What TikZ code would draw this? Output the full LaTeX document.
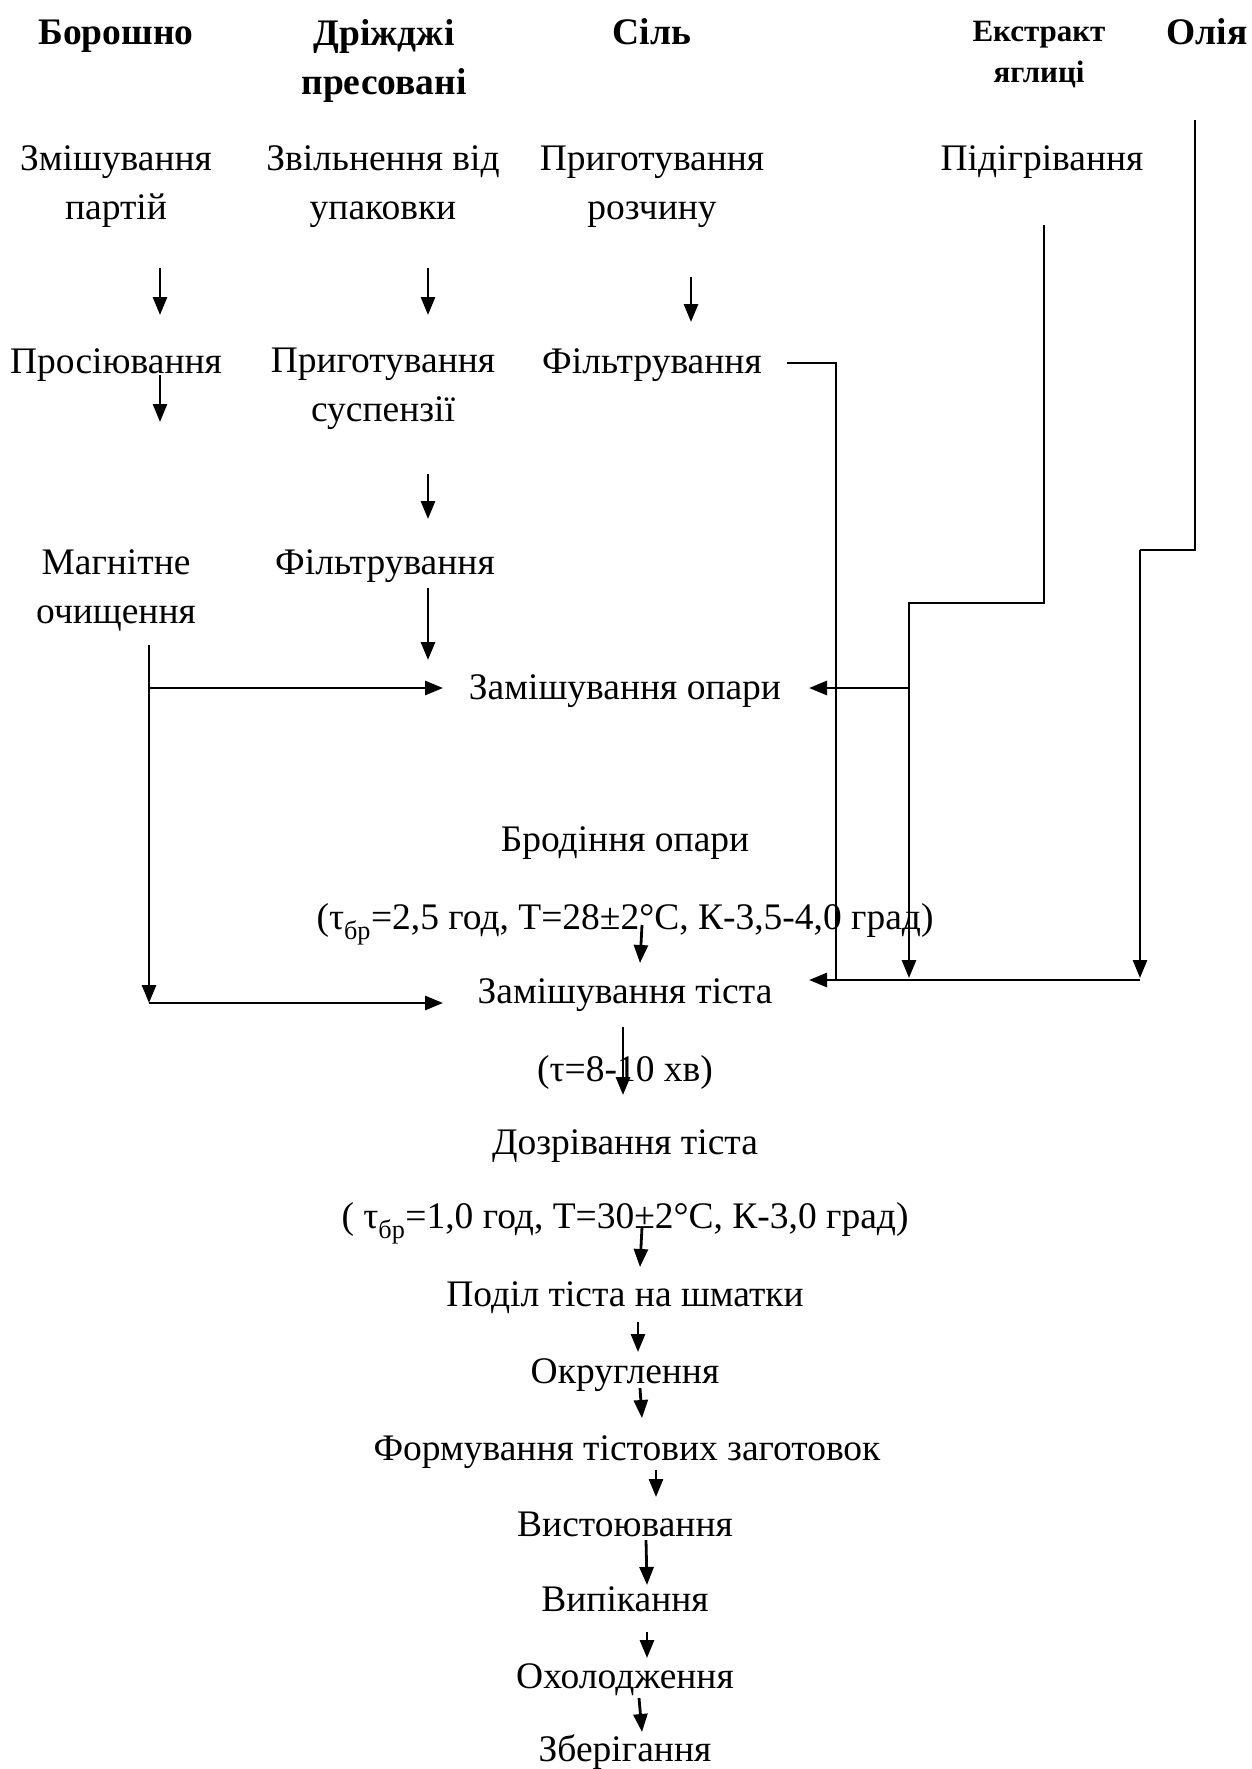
\documentclass[tikz,border=0pt]{standalone}
\usepackage{fontspec}
\setmainfont{Liberation Serif}
\usetikzlibrary{arrows.meta}
\tikzset{
  lbl/.style={anchor=base, inner sep=0pt, align=center, font=\fontsize{37.5}{48.5}\selectfont},
  hdr/.style={lbl, font=\fontsize{37.5}{48.5}\selectfont\bfseries},
  hdrsmall/.style={lbl, font=\fontsize{31}{40}\selectfont\bfseries},
  ln/.style={line width=2.8pt},
  thinln/.style={line width=2pt},
  arr/.style={ln, -{Triangle[length=18pt,width=14pt]}},
}
\newcommand{\tbr}{τ\textsubscript{бр}}
\begin{document}
\begin{tikzpicture}[x=1pt,y=-1pt]
\useasboundingbox (0,0) rectangle (1252,1769);
% headers (base = last line)
\node[hdr] (h1) at (116,45) {Борошно};
\node[hdr] (h2) at (384,94) {Дріжджі\\пресовані};
\node[hdr] (h3) at (652,45) {Сіль};
\node[hdrsmall] (h4) at (1039,82) {Екстракт\\яглиці};
\node[hdr] (h5) at (1207,45) {Олія};
% row 2
\node[lbl] (a1) at (116,219) {Змішування\\партій};
\node[lbl] (b1) at (383,219) {Звільнення від\\упаковки};
\node[lbl] (c1) at (652,219) {Приготування\\розчину};
\node[lbl] (d1) at (1042,170) {Підігрівання};
% row 3
\node[lbl] (a2) at (116,373) {Просіювання};
\node[lbl] (b2) at (383,421) {Приготування\\суспензії};
\node[lbl] (c2) at (652,373) {Фільтрування};
% row 4
\node[lbl] (a3) at (116,623) {Магнітне\\очищення};
\node[lbl] (b3) at (385,574) {Фільтрування};
% main column
\node[lbl] (m1) at (625,699) {Замішування опари};
\node[lbl] (m2) at (625,851) {Бродіння опари};
\node[lbl] (m2p) at (625,929) {(\tbr=2,5 год, T=28±2°C, К-3,5-4,0 град)};
\node[lbl] (m3) at (625,1003) {Замішування тіста};
\node[lbl] (m3p) at (625,1081) {(τ=8-10 хв)};
\node[lbl] (m4) at (625,1154) {Дозрівання тіста};
\node[lbl] (m4p) at (625,1228) {( \tbr=1,0 год, T=30±2°C, К-3,0 град)};
\node[lbl] (m5) at (625,1306) {Поділ тіста на шматки};
\node[lbl] (m6) at (625,1383) {Округлення};
\node[lbl] (m7) at (627,1460) {Формування тістових заготовок};
\node[lbl] (m8) at (625,1536) {Вистоювання};
\node[lbl] (m9) at (625,1611) {Випікання};
\node[lbl] (m10) at (625,1688) {Охолодження};
\node[lbl] (m11) at (625,1761) {Зберігання};
% coordinates
\coordinate (p1s) at (160,268); \coordinate (p1e) at (160,315);
\coordinate (p2s) at (428,268); \coordinate (p2e) at (428,315);
\coordinate (p3s) at (691,277); \coordinate (p3e) at (691,322);
\coordinate (p4s) at (160,375); \coordinate (p4e) at (160,422);
\coordinate (p5s) at (428,474); \coordinate (p5e) at (428,519);
\coordinate (p6s) at (428,588); \coordinate (p6e) at (428,660);
\coordinate (L0) at (149,645); \coordinate (L1) at (149,688); \coordinate (L2) at (149,1003);
\coordinate (L1e) at (443,688); \coordinate (L2e) at (443,1003);
\coordinate (S0) at (787,363); \coordinate (S1) at (836,363); \coordinate (S2) at (836,980);
\coordinate (E0) at (1044,225); \coordinate (E1) at (1044,603); \coordinate (E2) at (909,603);
\coordinate (E3) at (909,688); \coordinate (E4) at (909,978); \coordinate (E5) at (809,688);
\coordinate (O0) at (1195,120); \coordinate (O1) at (1195,550); \coordinate (O2) at (1140,550);
\coordinate (O3) at (1140,978); \coordinate (B0) at (1140,980); \coordinate (B1) at (809,980);
\coordinate (q1s) at (642,925); \coordinate (q1e) at (640,963);
\coordinate (q2s) at (623,1027); \coordinate (q2e) at (623,1095);
\coordinate (q3s) at (642,1227); \coordinate (q3e) at (640,1267);
\coordinate (q4s) at (638,1322); \coordinate (q4e) at (638,1352);
\coordinate (q5s) at (640,1388); \coordinate (q5e) at (642,1418);
\coordinate (q6s) at (656,1470); \coordinate (q6e) at (656,1497);
\coordinate (q7s) at (646,1540); \coordinate (q7e) at (647,1585);
\coordinate (q8s) at (647,1632); \coordinate (q8e) at (647,1658);
\coordinate (q9s) at (639,1698); \coordinate (q9e) at (642,1732);
% column arrows
\draw[arr] (p1s) -- (p1e);
\draw[arr] (p2s) -- (p2e);
\draw[arr] (p3s) -- (p3e);
\draw[arr] (p4s) -- (p4e);
\draw[arr] (p5s) -- (p5e);
\draw[arr] (p6s) -- (p6e);
% left feed
\draw[arr] (L0) -- (L2);
\draw[arr] (L1) -- (L1e);
\draw[arr] (L2) -- (L2e);
% salt
\draw[thinln] (S0) -- (S1) -- (S2);
% extract
\draw[ln] (E0) -- (E1) -- (E2) -- (E3);
\draw[arr] (E3) -- (E4);
\draw[arr] (E3) -- (E5);
% oil
\draw[ln] (O0) -- (O1) -- (O2);
\draw[arr] (O2) -- (O3);
\draw[arr] (B0) -- (B1);
% main arrows
\draw[arr] (q1s) -- (q1e);
\draw[arr] (q2s) -- (q2e);
\draw[arr] (q3s) -- (q3e);
\draw[arr] (q4s) -- (q4e);
\draw[arr] (q5s) -- (q5e);
\draw[arr] (q6s) -- (q6e);
\draw[arr] (q7s) -- (q7e);
\draw[arr] (q8s) -- (q8e);
\draw[arr] (q9s) -- (q9e);
\end{tikzpicture}
\end{document}
